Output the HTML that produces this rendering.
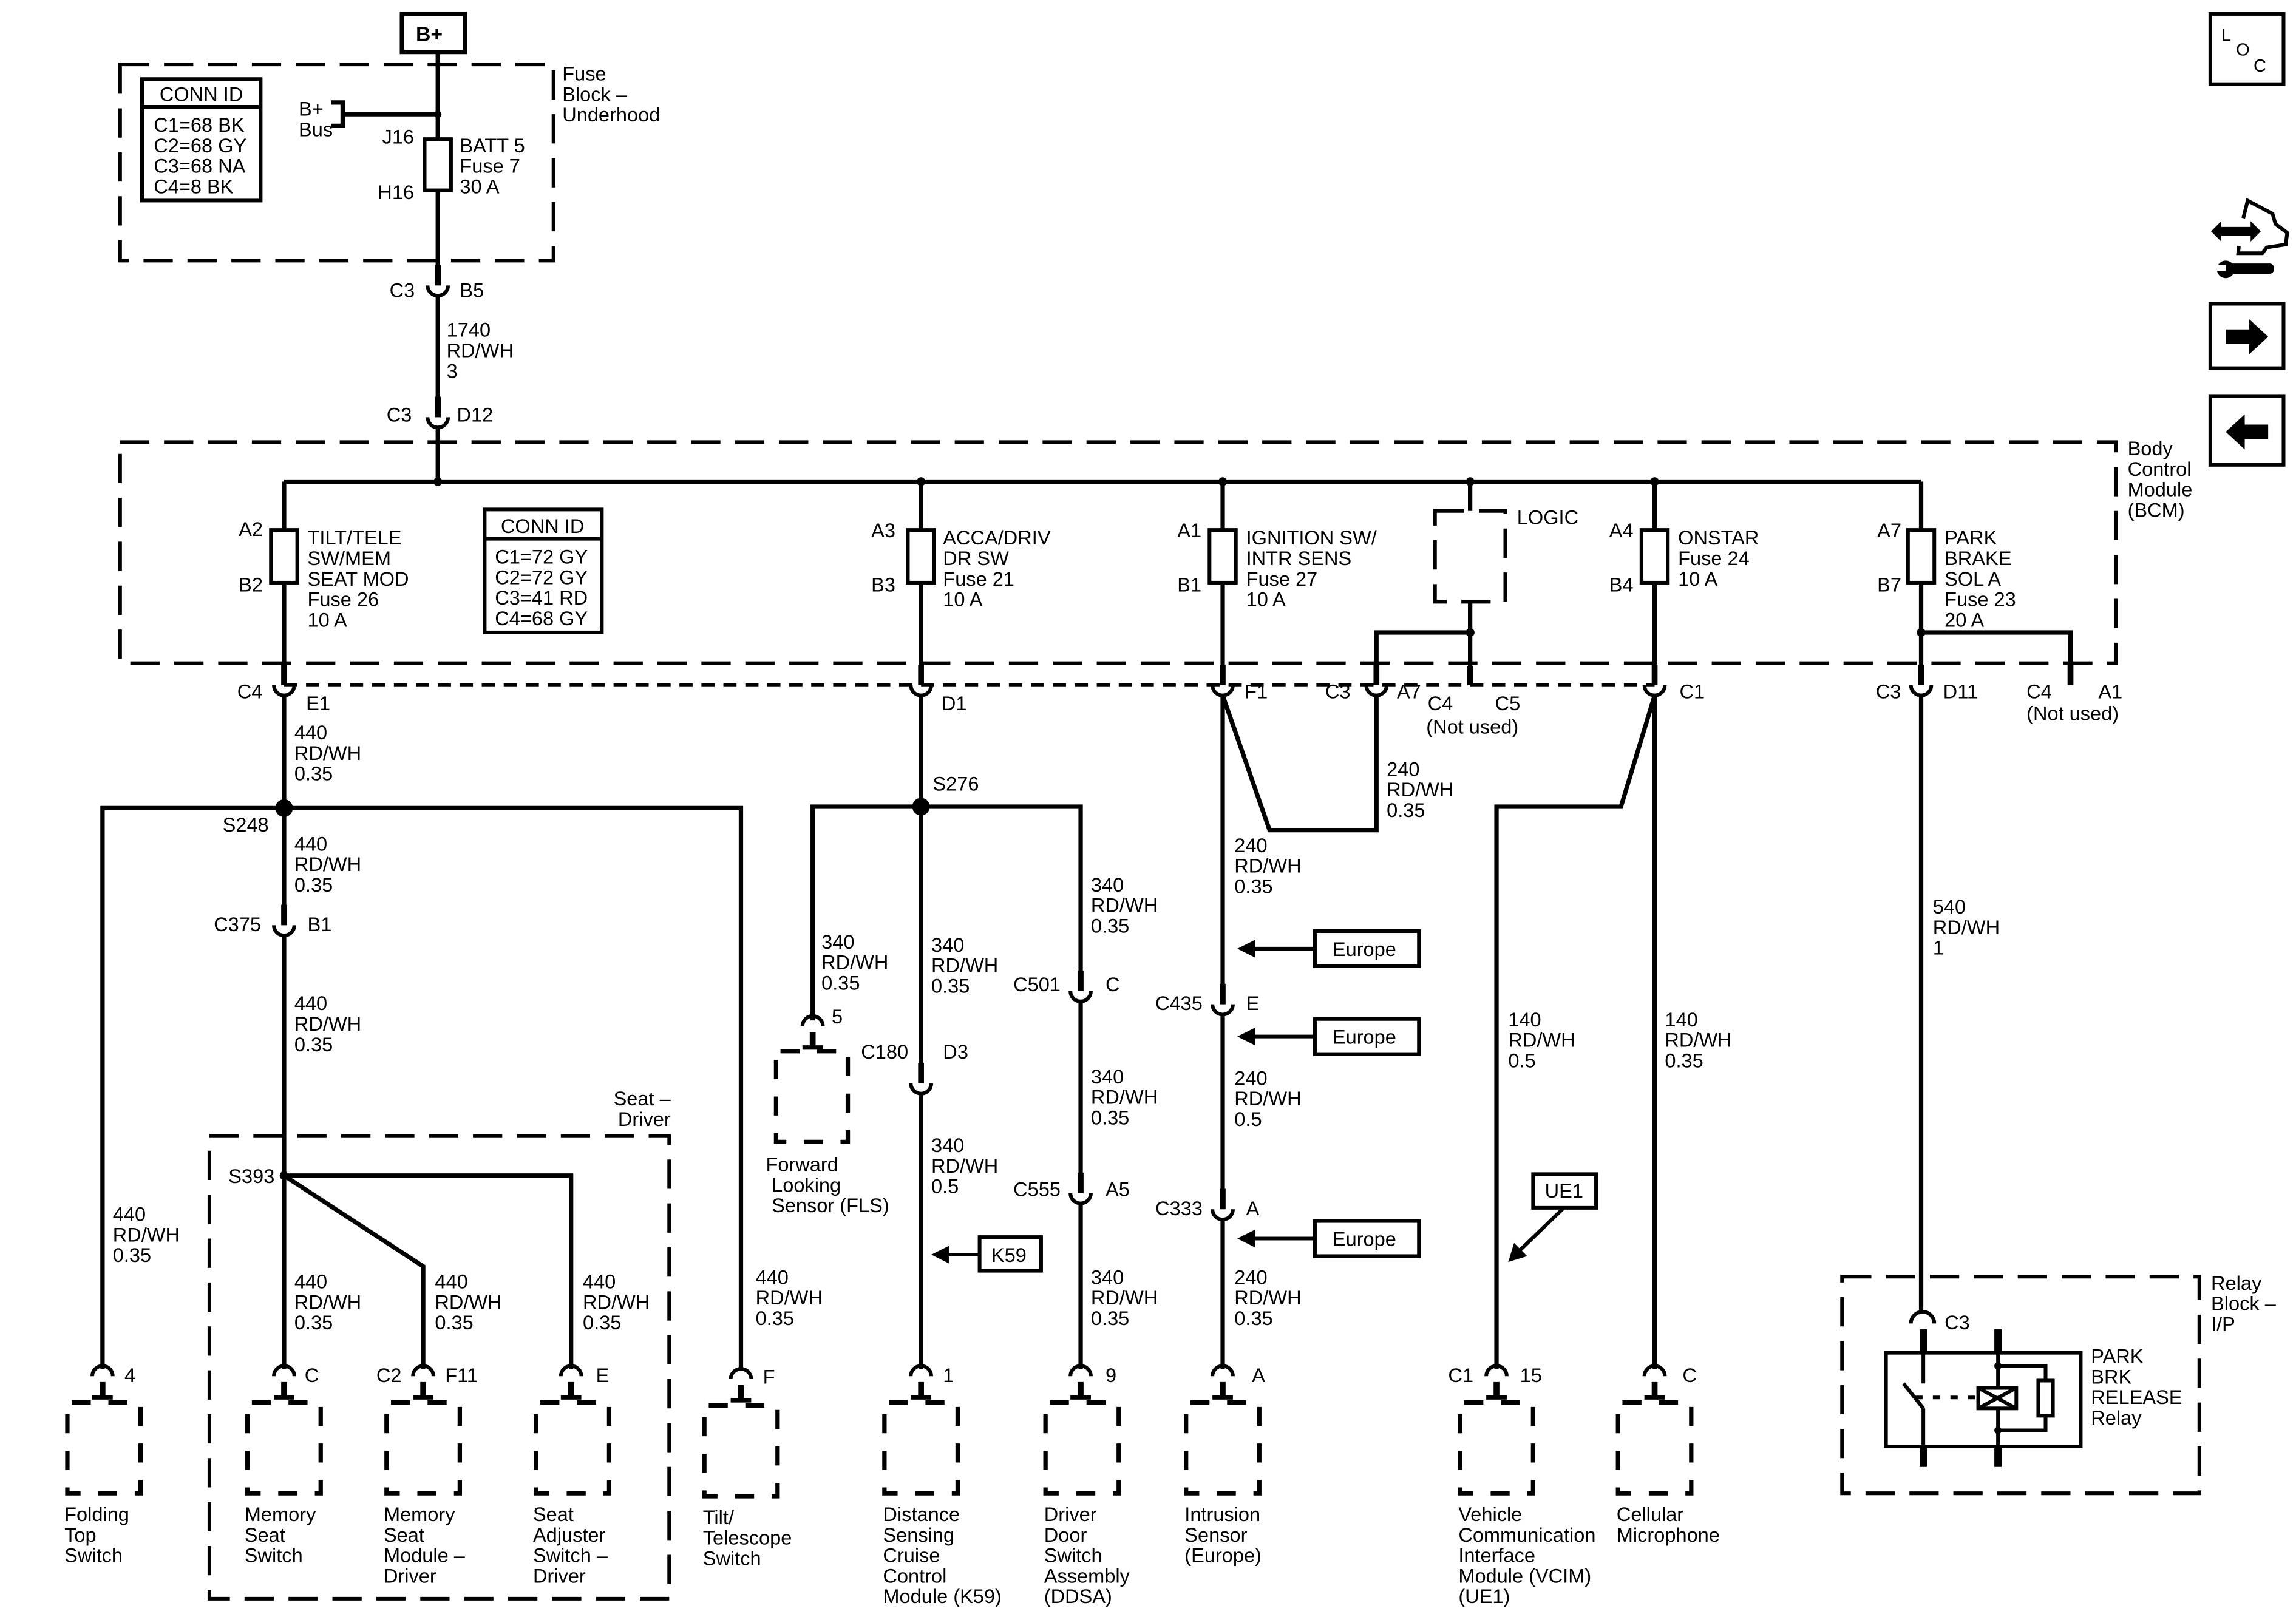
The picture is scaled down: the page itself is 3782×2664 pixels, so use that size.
<!DOCTYPE html>
<html><head><meta charset="utf-8"><style>
html,body{margin:0;padding:0;background:#fff;}
svg{display:block;}
text{font-family:"Liberation Sans",Arial,sans-serif;font-size:13.5px;fill:#000;}
</style></head><body>
<svg width="3782" height="2664" viewBox="0 0 1568 1104.5" xmlns="http://www.w3.org/2000/svg">
<defs>
<g id="cup"><path d="M-7,0 A7,7 0 0 0 7,0" fill="none" stroke="#000" stroke-width="2.5"/><rect x="-2" y="-14" width="4" height="14" fill="#000"/></g>
<g id="cap"><path d="M-7,4 A7,7 0 0 1 7,4" fill="none" stroke="#000" stroke-width="2.5"/><rect x="-2" y="8" width="4" height="10" fill="#000"/><rect x="-7" y="17" width="14" height="3" fill="#000"/></g>
</defs>
<rect width="1568" height="1104.5" fill="#fff"/>

<!-- B+ -->
<rect x="274.5" y="9.5" width="43" height="26" fill="none" stroke="#000" stroke-width="3"/>
<text x="284" y="28" font-weight="bold" style="font-size:14px">B+</text>

<g fill="none" stroke="#000" stroke-width="2.5" stroke-dasharray="20,10">
<rect x="82" y="44" width="296" height="134"/>
<rect x="82" y="302" width="1363" height="151"/>
<rect x="980" y="349" width="48" height="62"/>
<rect x="143" y="776" width="314" height="316"/>
<rect x="1258" y="872" width="244" height="148"/>
</g>
<text x="384" y="55">Fuse</text><text x="384" y="69">Block –</text><text x="384" y="83">Underhood</text>
<text x="1453" y="311">Body</text><text x="1453" y="325">Control</text><text x="1453" y="339">Module</text><text x="1453" y="353">(BCM)</text>
<text x="458" y="755" text-anchor="end">Seat –</text><text x="458" y="769" text-anchor="end">Driver</text>
<text x="1510" y="881">Relay</text><text x="1510" y="895">Block –</text><text x="1510" y="909">I/P</text>

<!-- CONN ID boxes -->
<g fill="none" stroke="#000" stroke-width="2.5">
<rect x="97" y="54" width="81" height="83"/><line x1="97" y1="73" x2="178" y2="73"/>
<rect x="331" y="348" width="80" height="84"/><line x1="331" y1="368" x2="411" y2="368"/>
</g>
<text x="109" y="69">CONN ID</text>
<text x="105" y="90">C1=68 BK</text><text x="105" y="104">C2=68 GY</text><text x="105" y="118">C3=68 NA</text><text x="105" y="132">C4=8 BK</text>
<text x="342" y="364">CONN ID</text>
<text x="338" y="385">C1=72 GY</text><text x="338" y="399">C2=72 GY</text><text x="338" y="413">C3=41 RD</text><text x="338" y="427">C4=68 GY</text>

<!-- wires -->
<g fill="none" stroke="#000" stroke-width="3">
<polyline points="226,70 234,70 234,86 226,86"/>
<line x1="234" y1="78" x2="299" y2="78"/>
<line x1="299" y1="36" x2="299" y2="95"/><line x1="299" y1="130" x2="299" y2="183"/>
<line x1="299" y1="202" x2="299" y2="273"/><line x1="299" y1="292" x2="299" y2="329"/>
<line x1="194" y1="329" x2="1312" y2="329"/>
<line x1="194" y1="329" x2="194" y2="362"/><line x1="194" y1="398" x2="194" y2="455"/>
<line x1="629" y1="329" x2="629" y2="362"/><line x1="629" y1="398" x2="629" y2="455"/>
<line x1="835" y1="329" x2="835" y2="362"/><line x1="835" y1="398" x2="835" y2="455"/>
<line x1="1130" y1="329" x2="1130" y2="362"/><line x1="1130" y1="398" x2="1130" y2="455"/>
<line x1="1312" y1="329" x2="1312" y2="362"/><line x1="1312" y1="398" x2="1312" y2="455"/>
<line x1="1004" y1="329" x2="1004" y2="349"/><line x1="1004" y1="411" x2="1004" y2="455"/>
<polyline points="1004,432 940,432 940,455"/>
<polyline points="1312,432 1414,432 1414,455"/>
<!-- 194 branch -->
<line x1="194" y1="475" x2="194" y2="620"/>
<polyline points="70,935 70,552 506,552 506,935"/>
<line x1="194" y1="639" x2="194" y2="935"/>
<polyline points="194,803 390,803 390,935"/>
<polyline points="194,803 289,865 289,935"/>
<!-- 629 -->
<line x1="629" y1="475" x2="629" y2="728"/><line x1="629" y1="747" x2="629" y2="935"/>
<polyline points="555,697 555,551 738,551 738,665"/>
<line x1="738" y1="684" x2="738" y2="803"/><line x1="738" y1="822" x2="738" y2="935"/>
<!-- 835 -->
<line x1="835" y1="475" x2="835" y2="674"/><line x1="835" y1="693" x2="835" y2="814"/><line x1="835" y1="833" x2="835" y2="935"/>
<polyline points="835,475 867,567 940,567 940,475"/>
<!-- 1130 -->
<line x1="1130" y1="475" x2="1130" y2="935"/>
<polyline points="1130,475 1107,551 1022,551 1022,935"/>
<!-- 1312 -->
<line x1="1312" y1="475" x2="1312" y2="897"/>
</g>
<line x1="194" y1="468" x2="1130" y2="468" stroke="#000" stroke-width="2.5" stroke-dasharray="9,6"/>

<!-- dots -->
<g fill="#000">
<circle cx="299" cy="78" r="2.5"/><circle cx="299" cy="329" r="3"/><circle cx="629" cy="329" r="3"/><circle cx="835" cy="329" r="3"/><circle cx="1004" cy="329" r="3"/><circle cx="1130" cy="329" r="3"/>
<circle cx="1004" cy="432" r="3"/><circle cx="1312" cy="432" r="3"/>
<circle cx="194" cy="552" r="6"/><circle cx="629" cy="551" r="6"/><circle cx="194" cy="803" r="3"/>
</g>

<!-- fuses -->
<g fill="#fff" stroke="#000" stroke-width="2.5">
<rect x="290" y="95" width="18" height="35"/>
<rect x="185" y="362" width="18" height="36"/><rect x="620" y="362" width="18" height="36"/><rect x="826" y="362" width="18" height="36"/><rect x="1121" y="362" width="18" height="36"/><rect x="1303" y="362" width="18" height="36"/>
</g>

<text x="204" y="79">B+</text><text x="204" y="93">Bus</text>
<text x="261" y="98">J16</text><text x="258" y="136">H16</text>
<text x="314" y="104">BATT 5</text><text x="314" y="118">Fuse 7</text><text x="314" y="132">30 A</text>
<text x="266" y="203">C3</text><text x="314" y="203">B5</text>
<text x="305" y="230">1740</text><text x="305" y="244">RD/WH</text><text x="305" y="258">3</text>
<text x="264" y="288">C3</text><text x="312" y="288">D12</text>

<text x="163" y="366">A2</text><text x="163" y="404">B2</text>
<text x="210" y="372">TILT/TELE</text><text x="210" y="386">SW/MEM</text><text x="210" y="400">SEAT MOD</text><text x="210" y="414">Fuse 26</text><text x="210" y="428">10 A</text>
<text x="595" y="367">A3</text><text x="595" y="404">B3</text>
<text x="644" y="372">ACCA/DRIV</text><text x="644" y="386">DR SW</text><text x="644" y="400">Fuse 21</text><text x="644" y="414">10 A</text>
<text x="804" y="367">A1</text><text x="804" y="404">B1</text>
<text x="851" y="372">IGNITION SW/</text><text x="851" y="386">INTR SENS</text><text x="851" y="400">Fuse 27</text><text x="851" y="414">10 A</text>
<text x="1036" y="358">LOGIC</text>
<text x="1099" y="367">A4</text><text x="1099" y="404">B4</text>
<text x="1146" y="372">ONSTAR</text><text x="1146" y="386">Fuse 24</text><text x="1146" y="400">10 A</text>
<text x="1282" y="367">A7</text><text x="1282" y="404">B7</text>
<text x="1328" y="372">PARK</text><text x="1328" y="386">BRAKE</text><text x="1328" y="400">SOL A</text><text x="1328" y="414">Fuse 23</text><text x="1328" y="428">20 A</text>

<!-- BCM connectors -->
<use href="#cup" x="194" y="468"/><use href="#cup" x="629" y="468"/><use href="#cup" x="835" y="468"/><use href="#cup" x="940" y="468"/><use href="#cup" x="1130" y="468"/><use href="#cup" x="1312" y="468"/>
<rect x="1002" y="455" width="4" height="13" fill="#000"/><rect x="1412" y="453" width="4" height="15" fill="#000"/>
<use href="#cup" x="299" y="195"/><use href="#cup" x="299" y="285"/>
<text x="162" y="477">C4</text><text x="209" y="485">E1</text>
<text x="643" y="485">D1</text><text x="850" y="477">F1</text>
<text x="905" y="477">C3</text><text x="954" y="477">A7</text>
<text x="975" y="485">C4</text><text x="1021" y="485">C5</text><text x="974" y="501">(Not used)</text>
<text x="1147" y="477">C1</text>
<text x="1281" y="477">C3</text><text x="1327" y="477">D11</text>
<text x="1384" y="477">C4</text><text x="1433" y="477">A1</text><text x="1384" y="492">(Not used)</text>

<!-- wire labels -->
<g>
<text x="201" y="505">440</text><text x="201" y="519">RD/WH</text><text x="201" y="533">0.35</text>
<text x="152" y="568">S248</text>
<text x="201" y="581">440</text><text x="201" y="595">RD/WH</text><text x="201" y="609">0.35</text>
<text x="146" y="636">C375</text><text x="210" y="636">B1</text>
<text x="201" y="690">440</text><text x="201" y="704">RD/WH</text><text x="201" y="718">0.35</text>
<text x="156" y="808">S393</text>
<text x="77" y="834">440</text><text x="77" y="848">RD/WH</text><text x="77" y="862">0.35</text>
<text x="201" y="880">440</text><text x="201" y="894">RD/WH</text><text x="201" y="908">0.35</text>
<text x="297" y="880">440</text><text x="297" y="894">RD/WH</text><text x="297" y="908">0.35</text>
<text x="398" y="880">440</text><text x="398" y="894">RD/WH</text><text x="398" y="908">0.35</text>
<text x="516" y="877">440</text><text x="516" y="891">RD/WH</text><text x="516" y="905">0.35</text>

<text x="637" y="540">S276</text>
<text x="561" y="648">340</text><text x="561" y="662">RD/WH</text><text x="561" y="676">0.35</text>
<text x="636" y="650">340</text><text x="636" y="664">RD/WH</text><text x="636" y="678">0.35</text>
<text x="588" y="723">C180</text><text x="644" y="723">D3</text>
<text x="636" y="787">340</text><text x="636" y="801">RD/WH</text><text x="636" y="815">0.5</text>
<text x="745" y="609">340</text><text x="745" y="623">RD/WH</text><text x="745" y="637">0.35</text>
<text x="692" y="677">C501</text><text x="755" y="677">C</text>
<text x="745" y="740">340</text><text x="745" y="754">RD/WH</text><text x="745" y="768">0.35</text>
<text x="692" y="817">C555</text><text x="755" y="817">A5</text>
<text x="745" y="877">340</text><text x="745" y="891">RD/WH</text><text x="745" y="905">0.35</text>

<text x="947" y="530">240</text><text x="947" y="544">RD/WH</text><text x="947" y="558">0.35</text>
<text x="843" y="582">240</text><text x="843" y="596">RD/WH</text><text x="843" y="610">0.35</text>
<text x="789" y="690">C435</text><text x="851" y="690">E</text>
<text x="843" y="741">240</text><text x="843" y="755">RD/WH</text><text x="843" y="769">0.5</text>
<text x="789" y="830">C333</text><text x="851" y="830">A</text>
<text x="843" y="877">240</text><text x="843" y="891">RD/WH</text><text x="843" y="905">0.35</text>

<text x="1030" y="701">140</text><text x="1030" y="715">RD/WH</text><text x="1030" y="729">0.5</text>
<text x="1137" y="701">140</text><text x="1137" y="715">RD/WH</text><text x="1137" y="729">0.35</text>
<text x="1320" y="624">540</text><text x="1320" y="638">RD/WH</text><text x="1320" y="652">1</text>
</g>

<!-- inline connectors -->
<use href="#cup" x="194" y="632"/><use href="#cup" x="629" y="740"/><use href="#cup" x="738" y="677"/><use href="#cup" x="738" y="815"/><use href="#cup" x="835" y="686"/><use href="#cup" x="835" y="826"/>

<!-- Europe / K59 / UE1 -->
<g fill="none" stroke="#000" stroke-width="2.5">
<rect x="898" y="636" width="71" height="24"/><rect x="898" y="696" width="71" height="24"/><rect x="898" y="834" width="71" height="24"/>
<rect x="669" y="845" width="42" height="23"/><rect x="1047" y="802" width="43" height="23"/>
<line x1="898" y1="648" x2="855" y2="648"/><line x1="898" y1="708" x2="855" y2="708"/><line x1="898" y1="846" x2="855" y2="846"/>
<line x1="669" y1="857" x2="647" y2="857"/><line x1="1068" y1="825" x2="1038" y2="854"/>
</g>
<g fill="#000">
<polygon points="845,648 857,642 857,654"/><polygon points="845,708 857,702 857,714"/><polygon points="845,846 857,840 857,852"/>
<polygon points="636,857 648,851 648,863"/><polygon points="1030,862 1034,849 1043,858"/>
</g>
<text x="910" y="653">Europe</text><text x="910" y="713">Europe</text><text x="910" y="851">Europe</text>
<text x="677" y="862">K59</text><text x="1055" y="818">UE1</text>

<!-- component connectors -->
<use href="#cap" x="70" y="936"/><use href="#cap" x="194" y="936"/><use href="#cap" x="289" y="936"/><use href="#cap" x="390" y="936"/><use href="#cap" x="506" y="938"/>
<use href="#cap" x="629" y="936"/><use href="#cap" x="738" y="936"/><use href="#cap" x="835" y="936"/><use href="#cap" x="1022" y="936"/><use href="#cap" x="1130" y="936"/>
<use href="#cap" x="555" y="697"/>
<text x="85" y="944">4</text><text x="208" y="944">C</text><text x="257" y="944">C2</text><text x="304" y="944">F11</text><text x="407" y="944">E</text><text x="521" y="945">F</text>
<text x="568" y="699">5</text><text x="644" y="944">1</text><text x="755" y="944">9</text><text x="855" y="944">A</text>
<text x="989" y="944">C1</text><text x="1038" y="944">15</text><text x="1149" y="944">C</text>

<!-- component boxes -->
<g fill="none" stroke="#000" stroke-width="3" stroke-dasharray="13,12" stroke-dashoffset="-3">
<rect x="46" y="958" width="50" height="62"/><rect x="169" y="958" width="50" height="62"/><rect x="264" y="958" width="50" height="62"/><rect x="366" y="958" width="50" height="62"/><rect x="481" y="960" width="50" height="62"/>
<rect x="530" y="718" width="49" height="62"/>
<rect x="604" y="958" width="50" height="62"/><rect x="714" y="958" width="50" height="62"/><rect x="810" y="958" width="50" height="62"/><rect x="997" y="958" width="50" height="62"/><rect x="1105" y="958" width="50" height="62"/>
</g>
<text x="44" y="1039">Folding</text><text x="44" y="1053">Top</text><text x="44" y="1067">Switch</text>
<text x="167" y="1039">Memory</text><text x="167" y="1053">Seat</text><text x="167" y="1067">Switch</text>
<text x="262" y="1039">Memory</text><text x="262" y="1053">Seat</text><text x="262" y="1067">Module –</text><text x="262" y="1081">Driver</text>
<text x="364" y="1039">Seat</text><text x="364" y="1053">Adjuster</text><text x="364" y="1067">Switch –</text><text x="364" y="1081">Driver</text>
<text x="480" y="1041">Tilt/</text><text x="480" y="1055">Telescope</text><text x="480" y="1069">Switch</text>
<text x="523" y="800">Forward</text><text x="527" y="814">Looking</text><text x="527" y="828">Sensor (FLS)</text>
<text x="603" y="1039">Distance</text><text x="603" y="1053">Sensing</text><text x="603" y="1067">Cruise</text><text x="603" y="1081">Control</text><text x="603" y="1095">Module (K59)</text>
<text x="713" y="1039">Driver</text><text x="713" y="1053">Door</text><text x="713" y="1067">Switch</text><text x="713" y="1081">Assembly</text><text x="713" y="1095">(DDSA)</text>
<text x="809" y="1039">Intrusion</text><text x="809" y="1053">Sensor</text><text x="809" y="1067">(Europe)</text>
<text x="996" y="1039">Vehicle</text><text x="996" y="1053">Communication</text><text x="996" y="1067">Interface</text><text x="996" y="1081">Module (VCIM)</text><text x="996" y="1095">(UE1)</text>
<text x="1104" y="1039">Cellular</text><text x="1104" y="1053">Microphone</text>

<!-- relay -->
<path d="M1305,904 A8,8 0 0 1 1321,904" fill="none" stroke="#000" stroke-width="2.5"/>
<text x="1328" y="908">C3</text>
<rect x="1288" y="924" width="133" height="64" fill="none" stroke="#000" stroke-width="2.5"/>
<g fill="#000"><rect x="1311" y="908" width="5" height="16"/><rect x="1362" y="908" width="5" height="16"/><rect x="1311" y="988" width="5" height="14"/><rect x="1362" y="988" width="5" height="14"/>
<circle cx="1364.5" cy="933" r="2.5"/><circle cx="1364.5" cy="977" r="2.5"/></g>
<g fill="none" stroke="#000" stroke-width="2.5">
<line x1="1313.5" y1="924" x2="1313.5" y2="945"/><line x1="1313.5" y1="962" x2="1313.5" y2="988"/>
<line x1="1300" y1="945" x2="1313.5" y2="962"/>
<line x1="1308" y1="954.5" x2="1351" y2="954.5" stroke-dasharray="5,7"/>
<line x1="1364.5" y1="924" x2="1364.5" y2="948"/><line x1="1364.5" y1="962" x2="1364.5" y2="988"/>
<rect x="1351" y="948" width="26" height="14"/><line x1="1351" y1="948" x2="1377" y2="962"/><line x1="1351" y1="962" x2="1377" y2="948"/>
<polyline points="1364.5,933 1397,933 1397,943"/><polyline points="1364.5,977 1397,977 1397,967"/>
<rect x="1392" y="943" width="10" height="24"/>
</g>
<text x="1428" y="931">PARK</text><text x="1428" y="945">BRK</text><text x="1428" y="959">RELEASE</text><text x="1428" y="973">Relay</text>

<!-- right icons -->
<rect x="1509.5" y="9.5" width="50" height="48" fill="none" stroke="#000" stroke-width="2.5"/>
<text x="1517" y="28" style="font-size:12px">L</text><text x="1527" y="38" style="font-size:12px">O</text><text x="1539" y="49" style="font-size:12px">C</text>
<polygon points="1510,158 1517,151 1517,155 1537,155 1537,151 1544,158 1537,165 1537,161 1517,161 1517,165" fill="#000"/>
<polyline points="1532,149 1535,137 1552,146 1554,153 1562,159 1561,167 1548,169 1545,173 1528.5,173 1529,168" fill="none" stroke="#000" stroke-width="2.5"/>
<circle cx="1520" cy="184" r="6" fill="#000"/><rect x="1522" y="180" width="31" height="7" rx="3" fill="#000"/><rect x="1514" y="181" width="6" height="4" fill="#fff"/>
<rect x="1509.5" y="207.5" width="50" height="44" fill="none" stroke="#000" stroke-width="2.5"/>
<polygon points="1520,225 1536,225 1536,218 1549,230 1536,242 1536,235 1520,235" fill="#000"/>
<rect x="1509.5" y="270.5" width="50" height="47" fill="none" stroke="#000" stroke-width="2.5"/>
<polygon points="1549,290 1533,290 1533,283 1520,295 1533,307 1533,300 1549,300" fill="#000"/>
</svg>
</body></html>
